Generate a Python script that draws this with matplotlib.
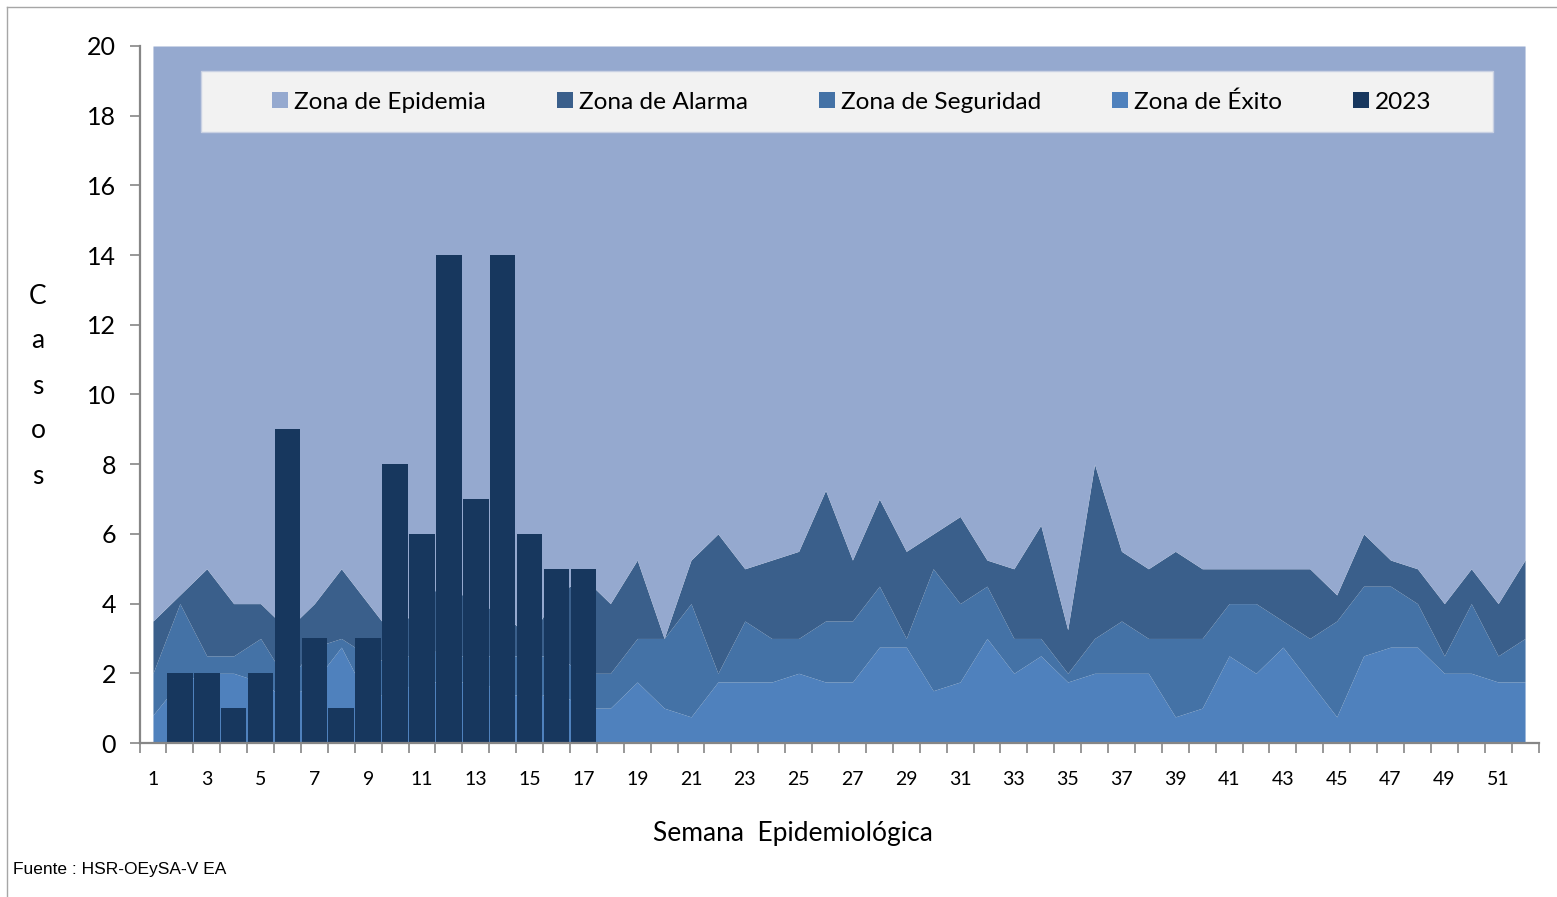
import matplotlib
matplotlib.use("Agg")
import matplotlib.pyplot as plt
from matplotlib.patches import Patch, Rectangle
from matplotlib.lines import Line2D
import numpy as np

# ---------------- data ----------------
semanas = list(range(1, 53))

# upper boundary of each zone (cumulative, in cases)
zona_exito = [0.8, 1.75, 2, 2, 1.75, 1.25, 1.75, 2.75, 1.25, 1.5,
              1.75, 1.75, 1.75, 1.5, 1.25, 1.5, 1, 1, 1.75, 1,
              0.75, 1.75, 1.75, 1.75, 2, 1.75, 1.75, 2.75, 2.75, 1.5,
              1.75, 3, 2, 2.5, 1.75, 2, 2, 2, 0.75, 1,
              2.5, 2, 2.75, 1.75, 0.75, 2.5, 2.75, 2.75, 2, 2,
              1.75, 1.75]
zona_seguridad = [2, 4, 2.5, 2.5, 3, 1.75, 2.75, 3, 2.5, 2.25,
                  2.75, 2.5, 2.5, 2.5, 2.5, 2.5, 2, 2, 3, 3,
                  4, 2, 3.5, 3, 3, 3.5, 3.5, 4.5, 3, 5,
                  4, 4.5, 3, 3, 2, 3, 3.5, 3, 3, 3,
                  4, 4, 3.5, 3, 3.5, 4.5, 4.5, 4, 2.5, 4,
                  2.5, 3]
zona_alarma = [3.5, 4.25, 5, 4, 4, 3.25, 4, 5, 4, 3,
               4.25, 4.5, 4, 3.75, 3, 4.25, 4.75, 4, 5.25, 3,
               5.25, 6, 5, 5.25, 5.5, 7.25, 5.25, 7, 5.5, 6,
               6.5, 5.25, 5, 6.25, 3.25, 8, 5.5, 5, 5.5, 5,
               5, 5, 5, 5, 4.25, 6, 5.25, 5, 4, 5,
               4, 5.25]
techo_epidemia = 20

semanas_2023 = list(range(1, 18))
casos_2023 = [0, 2, 2, 1, 2, 9, 3, 1, 3, 8, 6, 14, 7, 14, 6, 5, 5]

etiquetas_x = [str(s) for s in range(1, 52, 2)]
ticks_y = list(range(0, 21, 2))

# ---------------- style ----------------
c_epi = "#95A9CF"
c_alarma = "#3A5F8B"
c_seg = "#4472A6"
c_exito = "#4F81BD"
c_bar = "#17375E"
c_axis = "#868686"
FONT = "Lato"

W, H = 1557, 897
fig = plt.figure(figsize=(W / 100, H / 100), dpi=100)
fig.patch.set_facecolor("white")

x0, x1 = 139.5, 1538.5
y0, y1 = 743, 46
ax = fig.add_axes([x0 / W, (H - y0) / H, (x1 - x0) / W, (y0 - y1) / H])
ax.set_facecolor("white")
ax.set_xlim(0.5, 52.5)
ax.set_ylim(0, 20)

ax.fill_between(semanas, 0, zona_exito, color=c_exito, lw=0, zorder=1)
ax.fill_between(semanas, zona_exito, zona_seguridad, color=c_seg, lw=0, zorder=1)
ax.fill_between(semanas, zona_seguridad, zona_alarma, color=c_alarma, lw=0, zorder=1)
ax.fill_between(semanas, zona_alarma, techo_epidemia, color=c_epi, lw=0, zorder=1)

ax.bar(semanas_2023, casos_2023, width=0.95, color=c_bar, lw=0, zorder=3)

for s in ("top", "right"):
    ax.spines[s].set_visible(False)
for s in ("left", "bottom"):
    ax.spines[s].set_color(c_axis)
    ax.spines[s].set_linewidth(1.6)
    ax.spines[s].set_zorder(5)

ax.set_yticks(ticks_y)
ax.set_yticklabels([str(t) for t in ticks_y], fontfamily=FONT, fontsize=18)
ax.tick_params(axis="y", direction="out", length=7, width=1.2, color=c_axis, pad=10)

ax.set_xticks(np.arange(0.5, 53, 1))
ax.set_xticklabels([])
ax.tick_params(axis="x", which="major", direction="out", length=7, width=1.2, color=c_axis)
ax.set_xticks(range(1, 52, 2), minor=True)
ax.set_xticklabels(etiquetas_x, minor=True, fontfamily=FONT, fontsize=14)
ax.tick_params(axis="x", which="minor", length=0, pad=20)

# legend box
fig.patches.append(Rectangle((201 / W, 1 - 132 / H), (1493 - 201) / W, (132 - 71) / H,
                             transform=fig.transFigure, facecolor="#F2F2F2",
                             edgecolor="#C9D1E3", lw=1, zorder=4))
handles = [Patch(facecolor=c_epi, label="Zona de Epidemia"),
           Patch(facecolor=c_alarma, label="Zona de Alarma"),
           Patch(facecolor=c_seg, label="Zona de Seguridad"),
           Patch(facecolor=c_exito, label="Zona de Éxito"),
           Patch(facecolor=c_bar, label="2023")]
leg = fig.legend(handles=handles, loc="center", bbox_to_anchor=(852 / W, 1 - 102 / H),
                 ncol=5, frameon=False, handlelength=0.65, handleheight=0.65,
                 handletextpad=0.25, columnspacing=2.9,
                 prop={"family": FONT, "size": 17.6})
leg.set_zorder(6)

fig.text(38 / W, 1 - 386 / H, "C\na\ns\no\ns", ha="center", va="center",
         fontfamily=FONT, fontsize=19, linespacing=2.0)
fig.text(793 / W, 1 - 833 / H, "Semana  Epidemiológica", ha="center", va="center",
         fontfamily=FONT, fontsize=19)
fig.text(13 / W, 1 - 869 / H, "Fuente : HSR-OEySA-V EA", ha="left", va="center",
         fontfamily="Liberation Sans", fontsize=12.5)

# chart-area border (left and top)
fig.add_artist(Line2D([7 / W, 7 / W], [0, 1 - 7 / H], transform=fig.transFigure,
                      color="#A6A6A6", lw=1))
fig.add_artist(Line2D([7 / W, 1], [1 - 7 / H, 1 - 7 / H], transform=fig.transFigure,
                      color="#A6A6A6", lw=1))

fig.savefig("out.png", dpi=100)
